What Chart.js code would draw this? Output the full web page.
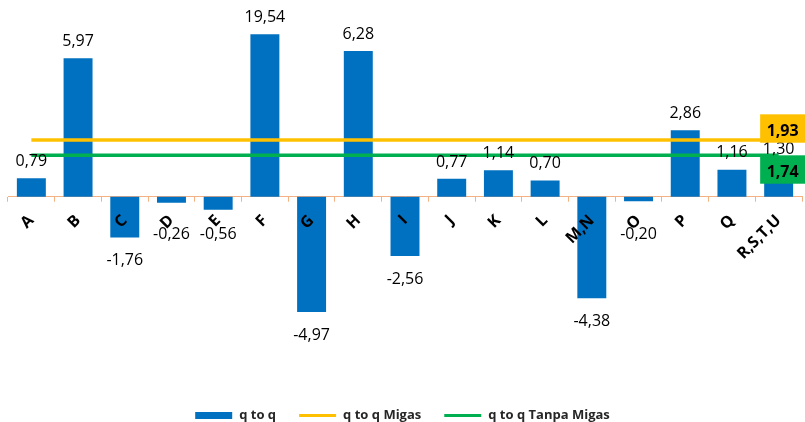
<!DOCTYPE html>
<html>
<head>
<meta charset="utf-8">
<script src="https://cdn.jsdelivr.net/npm/chart.js@4/dist/chart.umd.min.js"></script>
<style>
html,body{margin:0;padding:0;background:#ffffff;}
#wrap{width:805px;height:422px;}
</style>
</head>
<body>
<div id="wrap"><canvas id="c" width="805" height="422"></canvas></div>
<script>
// ---- data ----
const categories = ['A','B','C','D','E','F','G','H','I','J','K','L','M,N','O','P','Q','R,S,T,U'];
const qToQ = [0.79, 5.97, -1.76, -0.26, -0.56, 19.54, -4.97, 6.28, -2.56, 0.77, 1.14, 0.70, -4.38, -0.20, 2.86, 1.16, 1.30];
const qToQMigas = [1.93, 1.93, 1.93, 1.93, 1.93, 1.93, 1.93, 1.93, 1.93, 1.93, 1.93, 1.93, 1.93, 1.93, 1.93, 1.93, 1.93];
const qToQTanpaMigas = [1.74, 1.74, 1.74, 1.74, 1.74, 1.74, 1.74, 1.74, 1.74, 1.74, 1.74, 1.74, 1.74, 1.74, 1.74, 1.74, 1.74];
const seriesNames = ['q to q', 'q to q Migas', 'q to q Tanpa Migas'];

const BLUE = '#0070C0', YELLOW = '#FFC000', GREEN = '#00B050', AXIS = '#F4B183';
const FONT = "'Open Sans'";
const fmt = v => v.toFixed(2).replace('.', ',');

const valueLabels = {
  id: 'valueLabels',
  afterDatasetsDraw(chart) {
    const ctx = chart.ctx, area = chart.chartArea;
    const base = chart.scales.y.getPixelForValue(0);
    ctx.save();
    ctx.font = '16px ' + FONT;
    ctx.fillStyle = '#000';
    ctx.textAlign = 'center';
    ctx.textBaseline = 'alphabetic';
    const half = 5.7; // half of digit height
    chart.getDatasetMeta(0).data.forEach((el, i) => {
      const v = qToQ[i];
      let cy;
      if (v >= 0) cy = Math.max(el.y, area.top) - 18;
      else cy = Math.max(el.y + 22, base + 37);
      ctx.fillText(fmt(v), el.x, cy + half);
    });
    // end labels of the two lines
    const ends = [
      {ds: 1, data: qToQMigas, color: YELLOW, dy: -11.5},
      {ds: 2, data: qToQTanpaMigas, color: GREEN, dy: 14.2}
    ];
    ctx.font = 'bold 16px ' + FONT;
    ends.forEach(e => {
      const pts = chart.getDatasetMeta(e.ds).data;
      const p = pts[pts.length - 1];
      const cx = p.x + 4, cy = p.y + e.dy;
      ctx.fillStyle = e.color;
      ctx.fillRect(cx - 22.5, cy - 14.2, 45, 28.4);
      ctx.fillStyle = '#000';
      ctx.fillText(fmt(e.data[e.data.length - 1]), cx, cy + 1.5 + half);
    });
    ctx.restore();
  }
};

const bottomLegend = {
  id: 'bottomLegend',
  afterDraw(chart) {
    const ctx = chart.ctx;
    const cy = 415.5;
    const symW = 37, gap = 7, spacing = 23;
    ctx.save();
    ctx.font = 'bold 13px ' + FONT;
    ctx.textBaseline = 'middle';
    ctx.textAlign = 'left';
    const widths = seriesNames.map(n => ctx.measureText(n).width);
    const total = widths.reduce((a, w) => a + symW + gap + w, 0) + spacing * (seriesNames.length - 1);
    let x = chart.width / 2 - total / 2;
    const colors = [BLUE, YELLOW, GREEN];
    seriesNames.forEach((n, i) => {
      if (i === 0) {
        ctx.fillStyle = colors[i];
        ctx.fillRect(x, cy - 3.5, symW, 7);
      } else {
        ctx.strokeStyle = colors[i];
        ctx.lineWidth = 3;
        ctx.beginPath();
        ctx.moveTo(x, cy);
        ctx.lineTo(x + symW, cy);
        ctx.stroke();
      }
      ctx.fillStyle = '#262626';
      ctx.fillText(n, x + symW + gap, cy);
      x += symW + gap + widths[i] + spacing;
    });
    ctx.restore();
  }
};

// chart area spans from the top of the plot down to the zero line; negative bars
// are allowed to extend below it (no bottom clipping).
const noBottomClip = {left: false, top: 0, right: false, bottom: false};

new Chart(document.getElementById('c'), {
  type: 'bar',
  data: {
    labels: categories,
    datasets: [
      {
        label: seriesNames[0], data: qToQ, backgroundColor: BLUE, borderWidth: 0,
        barPercentage: 0.62, categoryPercentage: 1.0, yAxisID: 'y', order: 2, clip: noBottomClip
      },
      {
        type: 'line', label: seriesNames[1], data: qToQMigas, borderColor: YELLOW, backgroundColor: YELLOW,
        borderWidth: 3.5, pointRadius: 0, tension: 0, yAxisID: 'y2', order: 1
      },
      {
        type: 'line', label: seriesNames[2], data: qToQTanpaMigas, borderColor: GREEN, backgroundColor: GREEN,
        borderWidth: 3.5, pointRadius: 0, tension: 0, yAxisID: 'y2', order: 0
      }
    ]
  },
  options: {
    responsive: false,
    animation: false,
    layout: {padding: {top: 34.3, left: 8, right: 3, bottom: 130.3}},
    plugins: {legend: {display: false}, tooltip: {enabled: false}},
    scales: {
      x: {
        position: 'bottom',
        offset: true,
        grid: {display: true, drawOnChartArea: false, drawTicks: true, tickLength: 5, color: AXIS, offset: true},
        border: {display: true, color: AXIS, width: 1},
        ticks: {
          z: 1,
          autoSkip: false, minRotation: 45, maxRotation: 45, padding: 9.5, labelOffset: 0,
          color: '#000', font: {family: 'Open Sans', weight: 'bold', size: 16}
        },
        afterFit: (s) => { s.height = 95; s.paddingLeft = 0; s.paddingRight = 0; }
      },
      y: {display: false, min: 0, max: 7},
      y2: {display: false, min: 1.226, max: 3.243}
    }
  },
  plugins: [valueLabels, bottomLegend]
});
</script>
</body>
</html>
